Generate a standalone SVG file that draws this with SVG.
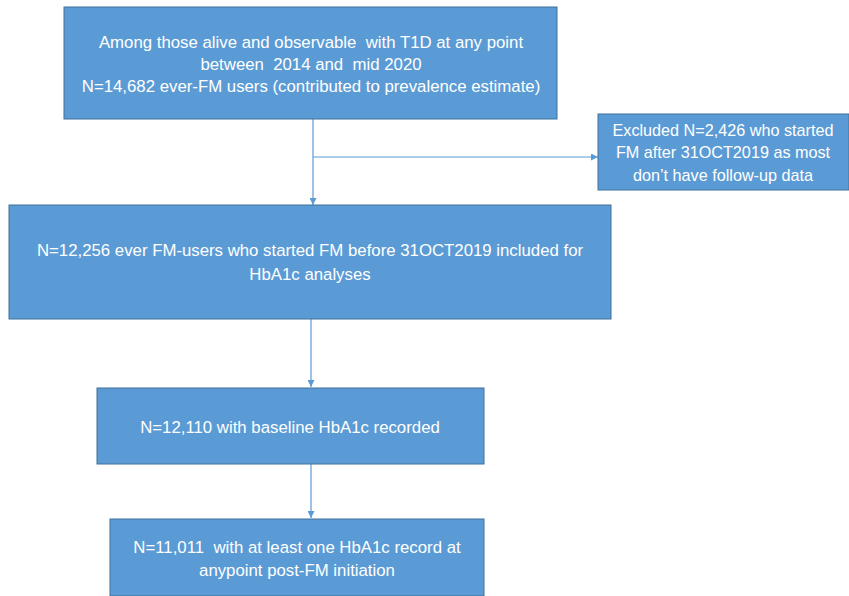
<svg xmlns="http://www.w3.org/2000/svg" width="849" height="596" viewBox="0 0 849 596">
<style>
.box{fill:#5B9BD5;stroke:#41719C;stroke-width:1}
.t{font-family:"Liberation Sans","Open Sans",sans-serif;font-size:16.8px;fill:#FFFFFF;text-anchor:middle;white-space:pre}
.s{font-size:16.2px}
.c{stroke:#5B9BD5;stroke-width:1.2;fill:none;marker-end:url(#ah)}
</style>
<defs>
<marker id="ah" viewBox="0 0 10 10" refX="10" refY="5" markerWidth="7" markerHeight="7" markerUnits="userSpaceOnUse" orient="auto">
<path d="M0,0 L10,5 L0,10 z" fill="#5B9BD5"/>
</marker>
</defs>
<rect width="849" height="596" fill="#FFFFFF"/>
<g id="connectors">
<path class="c" d="M313,119 V205"/>
<path class="c" d="M313,157 H598"/>
<path class="c" d="M311,319 V387"/>
<path class="c" d="M311,464 V518"/>
</g>
<g id="n1">
<rect class="box" x="64" y="7" width="493" height="112"/>
<text class="t" x="311" y="48" xml:space="preserve">Among those alive and observable  with T1D at any point</text>
<text class="t" x="311" y="70" xml:space="preserve">between  2014 and  mid 2020</text>
<text class="t" x="311" y="92">N=14,682 ever-FM users (contributed to prevalence estimate)</text>
</g>
<g id="n2">
<rect class="box" x="598" y="114" width="251" height="76"/>
<text class="t s" x="723" y="136">Excluded N=2,426 who started</text>
<text class="t s" x="723" y="158">FM after 31OCT2019 as most</text>
<text class="t s" x="723" y="181">don’t have follow-up data</text>
</g>
<g id="n3">
<rect class="box" x="9" y="205" width="602" height="114"/>
<text class="t" x="310" y="256">N=12,256 ever FM-users who started FM before 31OCT2019 included for</text>
<text class="t" x="310" y="280">HbA1c analyses</text>
</g>
<g id="n4">
<rect class="box" x="97" y="388" width="387" height="76"/>
<text class="t" x="290" y="433">N=12,110 with baseline HbA1c recorded</text>
</g>
<g id="n5">
<rect class="box" x="110" y="519" width="374" height="77"/>
<text class="t" x="297" y="553" xml:space="preserve">N=11,011  with at least one HbA1c record at</text>
<text class="t" x="297" y="576">anypoint post-FM initiation</text>
</g>
</svg>
